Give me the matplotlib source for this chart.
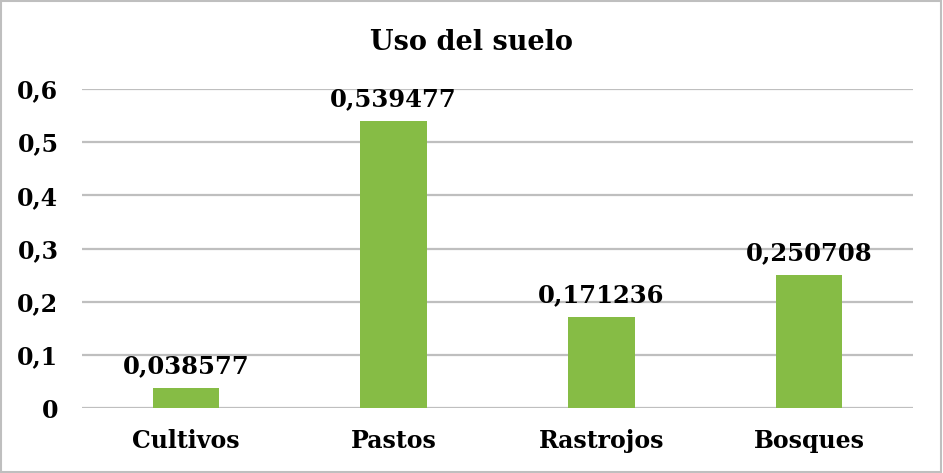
import numpy as np
import matplotlib
matplotlib.use('Agg')
import matplotlib.pyplot as plt
from matplotlib.patches import Rectangle

categorias = ['Cultivos', 'Pastos', 'Rastrojos', 'Bosques']
valores = [0.038577, 0.539477, 0.171236, 0.250708]
etiquetas = ['0,038577', '0,539477', '0,171236', '0,250708']
yticks = [0, 0.1, 0.2, 0.3, 0.4, 0.5, 0.6]
ytick_labels = ['0', '0,1', '0,2', '0,3', '0,4', '0,5', '0,6']

plt.rcParams['font.family'] = ['DejaVu Serif']
plt.rcParams['font.weight'] = 'bold'

fig = plt.figure(figsize=(9.43, 4.73), dpi=100)
ax = fig.add_axes([0.087, 0.137, 0.881, 0.675])

x = np.arange(len(categorias))
ax.bar(x, valores, width=0.32, color='#86BC45', zorder=3)

# etiquetas de datos encima de cada barra
for xi, v, t in zip(x, valores, etiquetas):
    ax.annotate(t, (xi, v), xytext=(0, 7), textcoords='offset points',
                ha='center', va='bottom', fontsize=17.5, fontweight='bold')

ax.set_xlim(-0.5, len(categorias) - 0.5)
ax.set_ylim(0, 0.6)
ax.set_yticks(yticks)
ax.set_yticklabels(ytick_labels, fontsize=17, fontweight='bold')
ax.set_xticks(x)
ax.set_xticklabels(categorias, fontsize=17, fontweight='bold')
ax.tick_params(length=0)
ax.tick_params(axis='y', pad=17)
ax.tick_params(axis='x', pad=15)
ax.grid(axis='y', color='#BFBFBF', linewidth=1.6, zorder=0)
for s in ax.spines.values():
    s.set_visible(False)

fig.text(0.5, 0.911, 'Uso del suelo', ha='center', va='center',
         fontsize=19.5, fontweight='bold')

# borde gris del área del gráfico
fig.patches.append(Rectangle((0.001, 0.002), 0.997, 0.995, transform=fig.transFigure,
                             fill=False, edgecolor='#BFBFBF', linewidth=1.5))

fig.savefig('out.png', dpi=100)
